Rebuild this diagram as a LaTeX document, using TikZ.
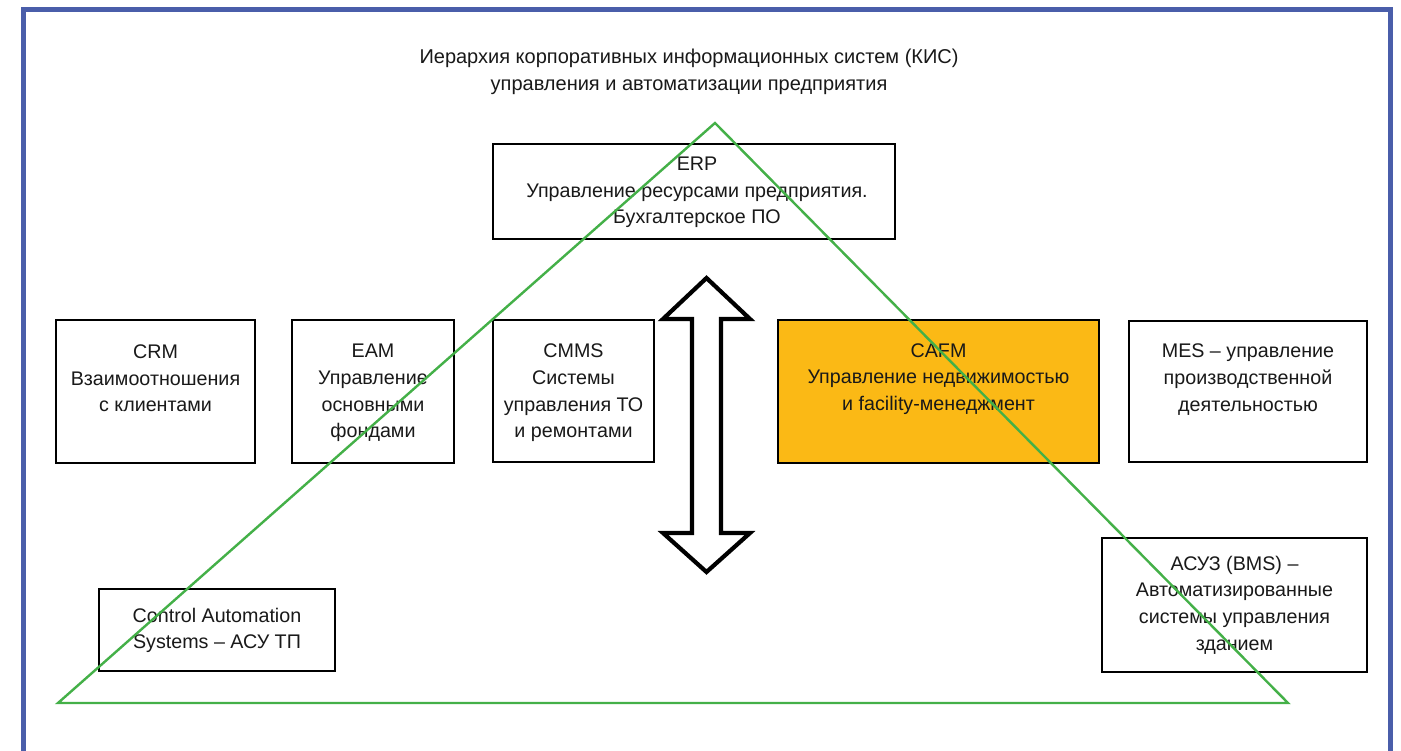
\documentclass[tikz,border=0pt]{standalone}
\usepackage{fontspec}
\setmainfont{Liberation Sans}
\definecolor{frameblue}{RGB}{74,94,170}
\definecolor{trigreen}{RGB}{68,176,72}
\definecolor{cafmorange}{RGB}{251,185,21}
\tikzset{
  boxstyle/.style={draw=black, line width=2.8pt, inner sep=0pt},
  txt/.style={align=center, inner sep=0pt, font=\fontsize{19.7}{26.6}\selectfont, text=black!90},
  titletxt/.style={align=center, inner sep=0pt, font=\fontsize{20}{27}\selectfont, text=black!90},
}
\begin{document}
\begin{tikzpicture}[x=1pt,y=-1pt]
\useasboundingbox (0,0) rectangle (1401,751);
\fill[white] (0,0) rectangle (1401,751);
\begin{scope}
\clip (0,0) rectangle (1401,751);
\draw[frameblue, line width=5pt] (23.5,9.5) rectangle (1390.5,780);
\end{scope}
% title
\node[titletxt] (title) at (689,72) {Иерархия корпоративных информационных систем (КИС)\\управления и автоматизации предприятия};
% boxes
\node[boxstyle, minimum width=402pt, minimum height=95pt] (erpbox) at (694,191.5) {};
\node[txt] (erp) at (697,192.5) {ERP\\Управление ресурсами предприятия.\\Бухгалтерское ПО};
\node[boxstyle, minimum width=199pt, minimum height=143pt] (crmbox) at (155.5,391.5) {};
\node[txt] (crm) at (155.5,378.5) {CRM\\Взаимоотношения\\с клиентами};
\node[boxstyle, minimum width=162pt, minimum height=143pt] (eambox) at (373,391.5) {};
\node[txt] (eam) at (373,393) {EAM\\Управление\\основными\\фондами};
\node[boxstyle, minimum width=161pt, minimum height=142pt] (cmmsbox) at (573.5,391) {};
\node[txt] (cmms) at (573.5,393) {CMMS\\Системы\\управления ТО\\и ремонтами};
\node[boxstyle, fill=cafmorange, minimum width=321pt, minimum height=143pt] (cafmbox) at (938.5,391.5) {};
\node[txt] (cafm) at (938.5,379) {CAFM\\Управление недвижимостью\\и facility-менеджмент};
\node[boxstyle, minimum width=238pt, minimum height=141pt] (mesbox) at (1248,391.5) {};
\node[txt] (mes) at (1248,379.5) {MES – управление\\производственной\\деятельностью};
\node[boxstyle, minimum width=236pt, minimum height=82pt] (casbox) at (217,630) {};
\node[txt] (cas) at (217,630.5) {Control Automation\\Systems – АСУ ТП};
\node[boxstyle, minimum width=265pt, minimum height=134pt] (bmsbox) at (1234.5,605) {};
\node[txt] (bms) at (1234.5,605) {АСУЗ (BMS) –\\Автоматизированные\\системы управления\\зданием};
% double arrow
\draw[line width=4.2pt, fill=white, line join=miter]
  (706.5,278) -- (750,319) -- (721,319) -- (721,533) -- (750,533) -- (706.5,572)
  -- (663,533) -- (692,533) -- (692,319) -- (663,319) -- cycle;
% triangle
\coordinate (apex) at (715,123);
\coordinate (bl) at (58,703);
\coordinate (br) at (1288,703);
\draw[trigreen, line width=2.4pt, line join=miter] (apex) -- (br) -- (bl) -- cycle;
\end{tikzpicture}
\end{document}
